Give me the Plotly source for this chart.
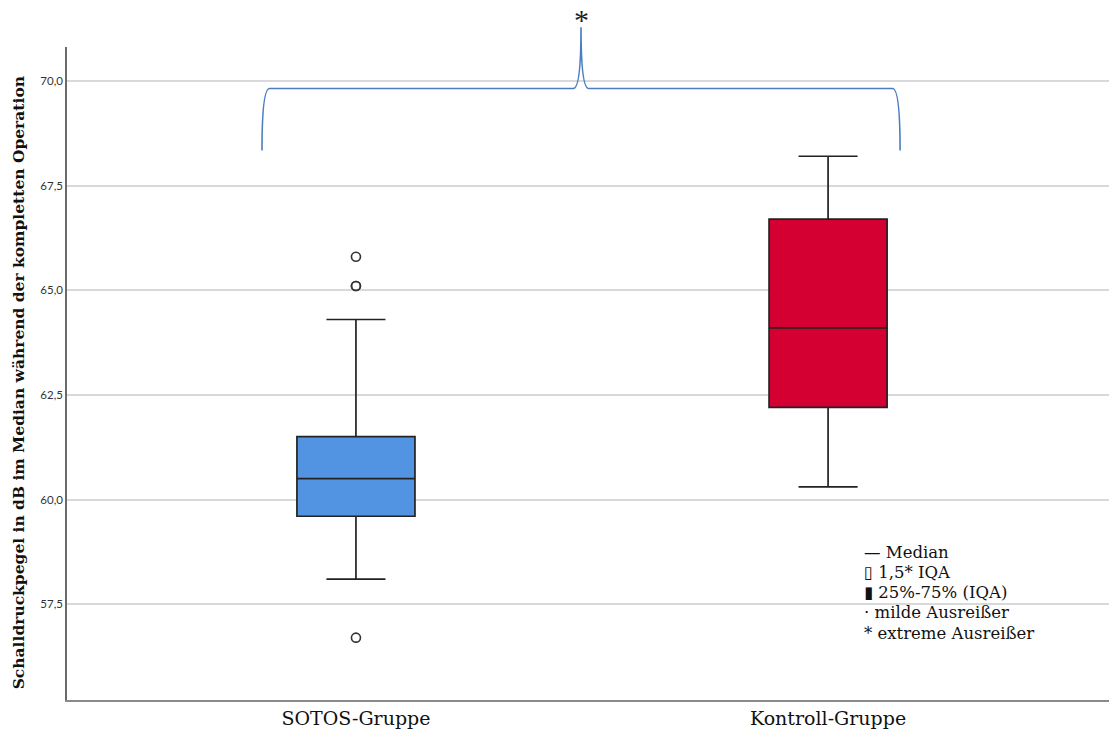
import plotly.graph_objects as go

# Group labels and box statistics (dB)
groups = ["SOTOS-Gruppe", "Kontroll-Gruppe"]
q1 = [59.6, 62.2]
median = [60.5, 64.1]
q3 = [61.5, 66.7]
lower_whisker = [58.1, 60.3]
upper_whisker = [64.3, 68.2]
box_colors = ["#5294E2", "#D50032"]

# Outliers (SOTOS group only)
outlier_group = [0, 0, 0, 0]
outlier_values = [65.8, 65.1, 65.1, 56.7]

# Y axis ticks
y_ticks = [57.5, 60.0, 62.5, 65.0, 67.5, 70.0]
y_ticktext = ["57,5", "60,0", "62,5", "65,0", "67,5", "70,0"]

# Symbol key
legend_rows = ["— Median", "▯ 1,5* IQA", "▮ 25%-75% (IQA)",
               "· milde Ausreißer", "* extreme Ausreißer"]

Y_RANGE = [55.21, 70.81]
X_RANGE = [-0.612, 1.595]

# Significance brace (x in category units, y in dB)
brace_left, brace_right, brace_mid = -0.199, 1.1525, 0.4767
brace_foot, brace_bar, brace_peak = 68.34, 69.82, 71.28

SERIF = "DejaVu Serif"

fig = go.Figure()

for i, g in enumerate(groups):
    fig.add_trace(go.Box(
        x=[i],
        q1=[q1[i]], median=[median[i]], q3=[q3[i]],
        lowerfence=[lower_whisker[i]], upperfence=[upper_whisker[i]],
        width=0.25,
        whiskerwidth=0.5,
        fillcolor=box_colors[i],
        line=dict(color="#222222", width=1.7),
        boxpoints=False,
        showlegend=False,
        hoverinfo="skip",
    ))

fig.add_trace(go.Scatter(
    x=outlier_group, y=outlier_values,
    mode="markers",
    marker=dict(symbol="circle-open", size=9, color="#333333", line=dict(width=1.6)),
    showlegend=False,
    hoverinfo="skip",
))


def yp(v):
    return (v - Y_RANGE[0]) / (Y_RANGE[1] - Y_RANGE[0])


dx = 0.016
path = (
    f"M {brace_left},{yp(brace_foot)} "
    f"Q {brace_left},{yp(brace_bar)} {brace_left + dx},{yp(brace_bar)} "
    f"L {brace_mid - dx},{yp(brace_bar)} "
    f"Q {brace_mid},{yp(brace_bar)} {brace_mid},{yp(brace_peak)} "
    f"Q {brace_mid},{yp(brace_bar)} {brace_mid + dx},{yp(brace_bar)} "
    f"L {brace_right - dx},{yp(brace_bar)} "
    f"Q {brace_right},{yp(brace_bar)} {brace_right},{yp(brace_foot)}"
)
fig.add_shape(type="path", path=path, xref="x", yref="paper",
              line=dict(color="#4A7EC0", width=1.6), layer="above")

fig.add_annotation(x=brace_mid, y=yp(brace_peak), xref="x", yref="paper",
                   text="*", showarrow=False, yanchor="bottom", yshift=-11,
                   font=dict(family="Liberation Serif", size=30, color="#222222"))

# Symbol key rows
row_top, row_step = 58.73, 0.48
for k, row in enumerate(legend_rows):
    fig.add_annotation(x=1.072, y=yp(row_top - k * row_step), xref="x", yref="paper",
                       text=row, showarrow=False, align="left",
                       xanchor="left", yanchor="middle",
                       font=dict(family=SERIF, size=16.5, color="#111111"))

# Y axis title
fig.add_annotation(x=-0.047, y=0.485, xref="paper", yref="paper",
                   text="<b>Schalldruckpegel in dB im Median während der kompletten Operation</b>",
                   textangle=-90, showarrow=False, xanchor="center", yanchor="middle",
                   font=dict(family=SERIF, size=15.5, color="#111111"))

fig.update_layout(
    width=1109, height=734,
    margin=dict(l=67, r=0, t=47, b=34),
    paper_bgcolor="white", plot_bgcolor="white",
    xaxis=dict(
        range=X_RANGE, tickmode="array", tickvals=[0, 1], ticktext=groups,
        showgrid=False, zeroline=False, showline=True, linecolor="#8a8a8a", linewidth=1.5,
        ticks="", tickfont=dict(family=SERIF, size=19, color="#111111"),
    ),
    yaxis=dict(
        range=Y_RANGE, tickmode="array", tickvals=y_ticks, ticktext=y_ticktext,
        showgrid=True, gridcolor="#d9d9d9", gridwidth=2, zeroline=False,
        showline=True, linecolor="#6a6a6a", linewidth=1.5, ticks="",
        tickfont=dict(family="Lato", size=11.5, color="#333333"),
    ),
)

fig.write_html("out.html")
